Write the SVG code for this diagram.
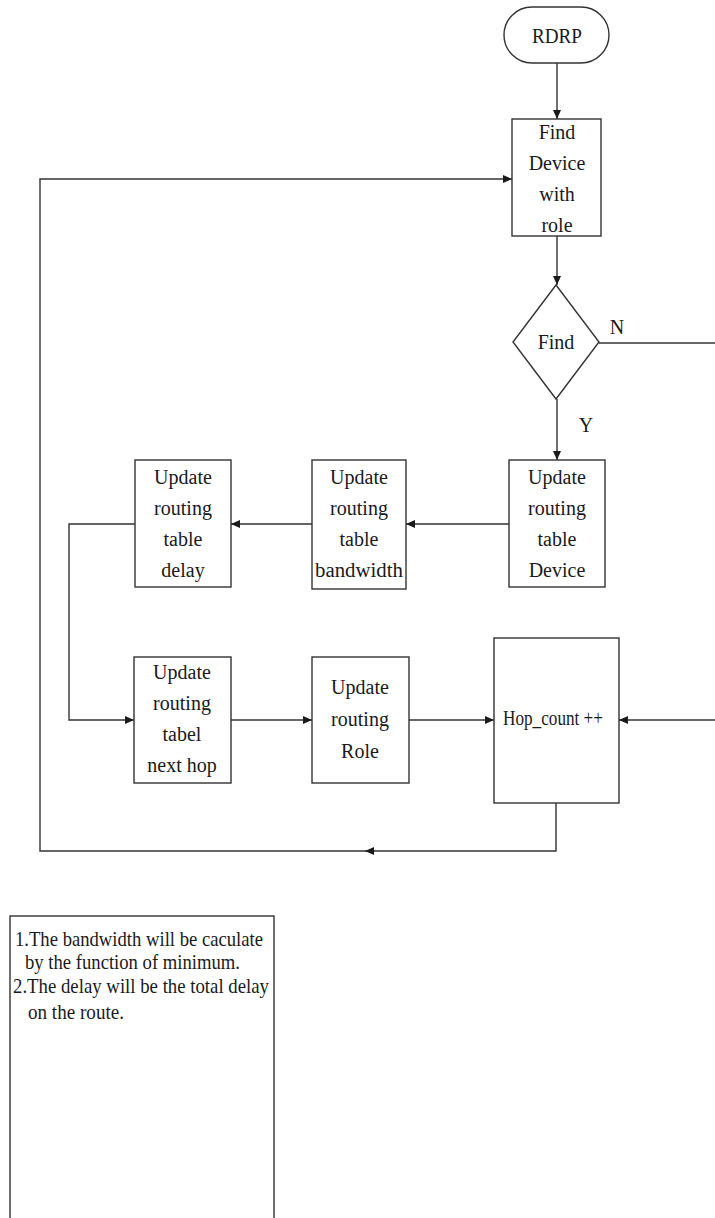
<svg xmlns="http://www.w3.org/2000/svg" width="715" height="1218" viewBox="0 0 715 1218">
<style>
.box{fill:#fff;stroke:#333;stroke-width:1.4}
.ln{fill:none;stroke:#333;stroke-width:1.4}
text{font-family:"Liberation Serif","Times New Roman",serif;font-size:20px;fill:#1a1a1a;text-anchor:middle}
.note{font-size:21px;text-anchor:start}
</style>
<defs>
<marker id="ah" markerUnits="userSpaceOnUse" markerWidth="10" markerHeight="9" refX="9" refY="4.5" orient="auto">
<path d="M0,0.5 L9,4.5 L0,8.5 z" fill="#1a1a1a"/>
</marker>
</defs>
<rect width="715" height="1218" fill="#fff"/>
<g id="connectors">
<path class="ln" d="M557,63 V119" marker-end="url(#ah)"/>
<path class="ln" d="M557,236 V285" marker-end="url(#ah)"/>
<path class="ln" d="M557,399 V460" marker-end="url(#ah)"/>
<path class="ln" d="M599,343 H716"/>
<path class="ln" d="M509,524 H406" marker-end="url(#ah)"/>
<path class="ln" d="M312,524 H231" marker-end="url(#ah)"/>
<path class="ln" d="M135,524 H69 V720 H134" marker-end="url(#ah)"/>
<path class="ln" d="M231,720 H312" marker-end="url(#ah)"/>
<path class="ln" d="M409,720 H494" marker-end="url(#ah)"/>
<path class="ln" d="M716,720 H619" marker-end="url(#ah)"/>
<path class="ln" d="M556,803 V851 H365" marker-end="url(#ah)"/>
<path class="ln" d="M366,851 H40 V179 H512" marker-end="url(#ah)"/>
<text x="617" y="334">N</text>
<text x="586" y="432">Y</text>
</g>
<g id="rdrp">
<rect class="box" x="504" y="7" width="105" height="56" rx="28"/>
<text x="557" y="43" font-size="24" textLength="50" lengthAdjust="spacingAndGlyphs">RDRP</text>
</g>
<g id="find-device">
<rect class="box" x="512" y="119" width="89" height="117"/>
<text x="557" y="139">Find</text>
<text x="557" y="170">Device</text>
<text x="557" y="201">with</text>
<text x="557" y="232">role</text>
</g>
<g id="find-decision">
<polygon class="box" points="556,285 599,342 556,399 513,342"/>
<text x="556" y="349">Find</text>
</g>
<g id="update-device">
<rect class="box" x="509" y="460" width="96" height="127"/>
<text x="557" y="484">Update</text>
<text x="557" y="515">routing</text>
<text x="557" y="546">table</text>
<text x="557" y="577">Device</text>
</g>
<g id="update-bandwidth">
<rect class="box" x="312" y="460" width="94" height="129"/>
<text x="359" y="484">Update</text>
<text x="359" y="515">routing</text>
<text x="359" y="546">table</text>
<text x="359" y="577" textLength="88" lengthAdjust="spacingAndGlyphs">bandwidth</text>
</g>
<g id="update-delay">
<rect class="box" x="135" y="460" width="96" height="127"/>
<text x="183" y="484">Update</text>
<text x="183" y="515">routing</text>
<text x="183" y="546">table</text>
<text x="183" y="577">delay</text>
</g>
<g id="update-nexthop">
<rect class="box" x="134" y="657" width="97" height="126"/>
<text x="182" y="679">Update</text>
<text x="182" y="710">routing</text>
<text x="182" y="741">tabel</text>
<text x="182" y="772">next hop</text>
</g>
<g id="update-role">
<rect class="box" x="312" y="657" width="97" height="126"/>
<text x="360" y="694">Update</text>
<text x="360" y="726">routing</text>
<text x="360" y="758">Role</text>
</g>
<g id="hop-count">
<rect class="box" x="494" y="638" width="125" height="165"/>
<text x="553" y="725" font-size="22" textLength="100" lengthAdjust="spacingAndGlyphs">Hop_count ++</text>
</g>
<g id="note">
<rect class="box" x="10" y="916" width="264" height="320"/>
<text class="note" x="15" y="946" textLength="248" lengthAdjust="spacingAndGlyphs">1.The bandwidth will be caculate</text>
<text class="note" x="25" y="969" textLength="215" lengthAdjust="spacingAndGlyphs">by the function of minimum.</text>
<text class="note" x="13" y="993" textLength="256" lengthAdjust="spacingAndGlyphs">2.The delay will be the total delay</text>
<text class="note" x="28" y="1019" textLength="96" lengthAdjust="spacingAndGlyphs">on the route.</text>
</g>
</svg>
